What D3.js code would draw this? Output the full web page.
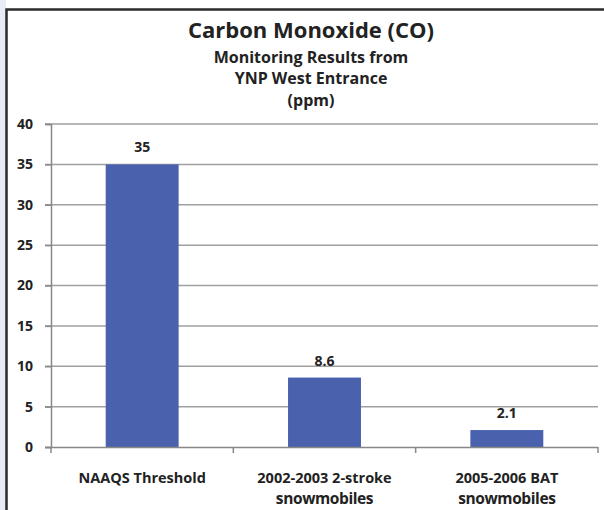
<!DOCTYPE html>
<html><head><meta charset="utf-8">
<script src="https://cdn.jsdelivr.net/npm/d3@7"></script>
<style>html,body{margin:0;padding:0;background:#fff;}svg{display:block;font-family:"Open Sans",sans-serif;}</style>
</head><body>
<script>
const categories = ["NAAQS Threshold", "2002-2003 2-stroke|snowmobiles", "2005-2006 BAT|snowmobiles"];
const values = [35, 8.6, 2.1];
const valueLabels = ["35", "8.6", "2.1"];
const yTicks = [0, 5, 10, 15, 20, 25, 30, 35, 40];
const titleLines = ["Carbon Monoxide (CO)", "Monitoring Results from", "YNP West Entrance", "(ppm)"];

const W = 604, H = 510;
const svg = d3.select("body").append("svg").attr("width", W).attr("height", H);

// outer background strip + frame
svg.append("rect").attr("x", 0).attr("y", 0).attr("width", 6).attr("height", H).attr("fill", "#e8ecf6");
svg.append("rect").attr("x", 6).attr("y", 9).attr("width", W).attr("height", H).attr("fill", "#fff");
svg.append("path").attr("d", `M6.5,${H}V9.5H${W}`).attr("fill", "none").attr("stroke", "#2b2b2b").attr("stroke-width", 2.5);

const x = d3.scaleBand().domain(categories).range([51, 598]).paddingInner(0.6).paddingOuter(0.3);
const y = d3.scaleLinear().domain([0, 40]).range([447, 124]);

// gridlines
svg.append("g").selectAll("line").data(yTicks.filter(d => d > 0)).join("line")
  .attr("x1", 45).attr("x2", 598).attr("y1", d => y(d)).attr("y2", d => y(d))
  .attr("stroke", "#a0a0a0").attr("stroke-width", 1.5);

// y axis
const yAxis = svg.append("g").attr("transform", "translate(51,0)")
  .call(d3.axisLeft(y).tickValues(yTicks).tickSize(6).tickPadding(12).tickFormat(d3.format("d")));
yAxis.select(".domain").attr("stroke", "#888").attr("stroke-width", 1.5);
yAxis.selectAll(".tick line").attr("stroke", "#888").attr("stroke-width", 1.5);
yAxis.selectAll(".tick text").attr("font-size", 14).attr("font-weight", 700).attr("fill", "#222")
  .attr("font-family", "'Open Sans',sans-serif");

// bars
svg.append("g").selectAll("rect").data(values).join("rect")
  .attr("x", (d, i) => x(categories[i])).attr("width", x.bandwidth())
  .attr("y", d => y(d)).attr("height", d => y(0) - y(d))
  .attr("fill", "#4a61ad");

// x axis
const xAxis = svg.append("g").attr("transform", "translate(0,447)")
  .call(d3.axisBottom(x).tickSize(0).tickFormat(""));
xAxis.select(".domain").attr("stroke", "#888").attr("stroke-width", 1.5).attr("d", "M45,0.5H598");
const bounds = [x.range()[0], ...categories.map(c => x(c) + x.bandwidth() / 2 + x.step() / 2)];
xAxis.append("g").selectAll("line").data(bounds).join("line")
  .attr("x1", d => d).attr("x2", d => d).attr("y1", 0).attr("y2", 6)
  .attr("stroke", "#888").attr("stroke-width", 1.5);

// category labels
const cat = svg.append("g").attr("font-weight", 700).attr("fill", "#222").attr("text-anchor", "middle");
categories.forEach(c => {
  const parts = c.split("|");
  const cx = x(c) + x.bandwidth() / 2;
  cat.append("text").attr("x", cx).attr("y", 483).attr("font-size", 14.5).text(parts[0]);
  if (parts[1]) cat.append("text").attr("x", cx).attr("y", 504).attr("font-size", 15.5)
    .attr("letter-spacing", -0.4).text(parts[1]);
});

// value labels
svg.append("g").selectAll("text").data(values).join("text")
  .attr("x", (d, i) => x(categories[i]) + x.bandwidth() / 2)
  .attr("y", d => y(d) - 12)
  .attr("text-anchor", "middle").attr("font-size", 14).attr("font-weight", 700).attr("fill", "#222")
  .text((d, i) => valueLabels[i]);

// titles
const t = svg.append("g").attr("text-anchor", "middle").attr("fill", "#222");
t.append("text").attr("x", 311).attr("y", 38).attr("font-size", 22).attr("font-weight", 700).text(titleLines[0]);
t.append("text").attr("x", 311).attr("y", 63).attr("font-size", 16).attr("font-weight", 700).text(titleLines[1]);
t.append("text").attr("x", 311).attr("y", 84).attr("font-size", 16).attr("font-weight", 700).text(titleLines[2]);
t.append("text").attr("x", 311).attr("y", 106).attr("font-size", 16).attr("font-weight", 700).text(titleLines[3]);
</script>
</body></html>
